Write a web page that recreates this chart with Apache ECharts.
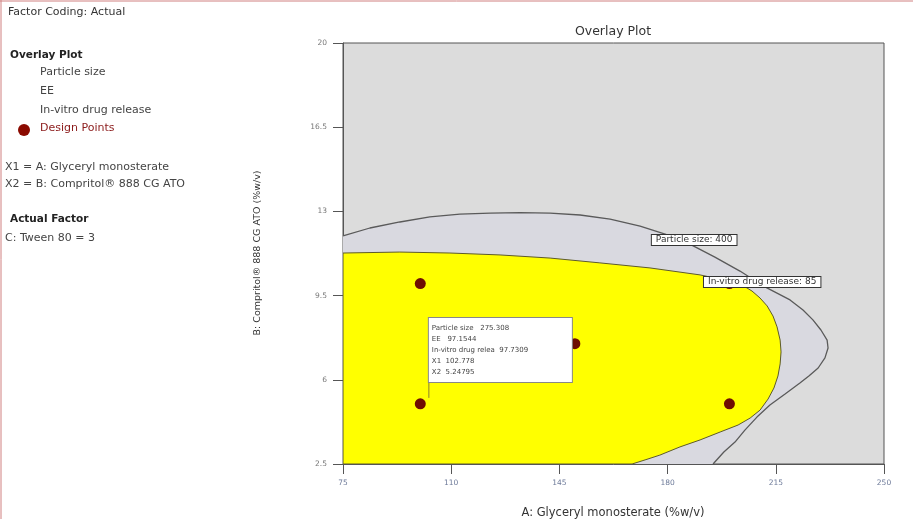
<!DOCTYPE html>
<html><head><meta charset="utf-8">
<script src="https://cdn.jsdelivr.net/npm/echarts@6/dist/echarts.min.js"></script>
<style>html,body{margin:0;padding:0;background:#fff}#c{width:913px;height:519px}</style>
</head><body><div id="c"></div>
<script>
// ---- data ----
const xTicks = [75, 110, 145, 180, 215, 250];
const yTicks = [2.5, 6, 9.5, 13, 16.5, 20];
const designX = [100, 100, 150, 200, 200];
const designY = [5, 10, 7.5, 5, 10];
// Particle size = 400 contour
const particleX = [75, 83.7, 93.4, 103.1, 112.8, 122.6, 132.3, 142.0, 151.7, 161.4, 171.1, 179.2, 187.2, 195.3, 203.4, 211.5, 219.6, 223.8, 227.0, 229.6, 231.6, 231.9, 230.9, 228.7, 225.7, 222.8, 218.0, 213.1, 208.9, 205.0, 201.8, 198.2, 194.7];
const particleY = [11.98, 12.31, 12.56, 12.77, 12.89, 12.93, 12.95, 12.93, 12.85, 12.68, 12.39, 12.06, 11.64, 11.10, 10.52, 9.86, 9.32, 8.90, 8.49, 8.07, 7.65, 7.32, 6.91, 6.49, 6.16, 5.87, 5.41, 4.95, 4.45, 3.91, 3.41, 3.00, 2.5];
// overlay (feasible) region boundary
const regionX = [75, 93.4, 109.6, 125.8, 142.0, 158.1, 174.3, 190.5, 195.3, 200.2, 204.1, 207.3, 209.9, 212.2, 214.1, 215.4, 216.4, 216.7, 216.4, 215.7, 214.4, 212.5, 209.9, 206.7, 202.8, 197.0, 190.5, 184.0, 177.5, 172.7, 168.5, 75];
const regionY = [11.27, 11.31, 11.27, 11.19, 11.06, 10.86, 10.65, 10.36, 10.23, 10.11, 9.94, 9.69, 9.40, 9.07, 8.65, 8.20, 7.65, 7.16, 6.66, 6.16, 5.66, 5.20, 4.74, 4.41, 4.12, 3.83, 3.50, 3.21, 2.87, 2.67, 2.5, 2.5];
const flagPoint = [102.778, 5.24795];
const flagTop = 8.4;
const flagLines = ['Particle size   275.308', 'EE   97.1544', 'In-vitro drug relea  97.7309', 'X1  102.778', 'X2  5.24795'];
const contourLabels = ['Particle size: 400', 'In-vitro drug release: 85'];
const contourLabelX = [188.6, 210.6];
const contourLabelY = [11.81, 10.07];

const F = '"DejaVu Sans", Verdana, sans-serif';
const chart = echarts.init(document.getElementById('c'), null, {renderer: 'canvas'});

const pairs = (xs, ys) => xs.map((x, i) => [x, ys[i]]);

const leftText = [
  {t: 'Factor Coding: Actual', x: 8, y: 14, bold: false, c: '#333'},
  {t: 'Overlay Plot', x: 10, y: 57, bold: true, c: '#222'},
  {t: 'Particle size', x: 40, y: 74, bold: false, c: '#444'},
  {t: 'EE', x: 40, y: 93, bold: false, c: '#444'},
  {t: 'In-vitro drug release', x: 40, y: 112, bold: false, c: '#444'},
  {t: 'Design Points', x: 40, y: 130, bold: false, c: '#8b1a1a'},
  {t: 'X1 = A: Glyceryl monosterate', x: 5, y: 169, bold: false, c: '#444'},
  {t: 'X2 = B: Compritol\u00ae 888 CG ATO', x: 5, y: 186, bold: false, c: '#444'},
  {t: 'Actual Factor', x: 10, y: 221, bold: true, c: '#222'},
  {t: 'C: Tween 80 = 3', x: 5, y: 240, bold: false, c: '#444'}
];

const graphics = [
  {type: 'line', shape: {x1: 0, y1: 1, x2: 913, y2: 1}, style: {stroke: '#d08080', lineWidth: 1}},
  {type: 'line', shape: {x1: 1, y1: 0, x2: 1, y2: 519}, style: {stroke: '#d08080', lineWidth: 1}},
  {type: 'circle', shape: {cx: 24, cy: 130, r: 6}, style: {fill: '#8b0a00'}}
].concat(leftText.map(o => ({
  type: 'text', left: o.x, top: o.y - 7,
  style: {text: o.t, fill: o.c, font: (o.bold ? 'bold 10.5px ' : '11px ') + F}
}))).concat([
  {type: 'text', x: 613, y: 32, style: {text: 'Overlay Plot', fill: '#333', font: '12.5px ' + F, textAlign: 'center', textVerticalAlign: 'middle'}},
  {type: 'text', x: 613, y: 513, style: {text: 'A: Glyceryl monosterate (%w/v)', fill: '#333', font: '11.5px ' + F, textAlign: 'center', textVerticalAlign: 'middle'}},
  {type: 'text', x: 258, y: 253, rotation: Math.PI / 2, style: {text: 'B: Compritol\u00ae 888 CG ATO (%w/v)', fill: '#333', font: '9.5px ' + F, textAlign: 'center', textVerticalAlign: 'middle'}}
]);

chart.setOption({
  animation: false,
  backgroundColor: '#fff',
  grid: {left: 343, right: 29, top: 43, bottom: 55, show: true, backgroundColor: '#dcdcdc', borderColor: '#555', borderWidth: 1},
  xAxis: {
    type: 'value', min: xTicks[0], max: xTicks[xTicks.length - 1], interval: xTicks[1] - xTicks[0],
    axisLine: {show: true, lineStyle: {color: '#555'}},
    axisTick: {show: true, length: 10, lineStyle: {color: '#555'}},
    axisLabel: {color: '#6d7a99', fontSize: 7.5, margin: 15, fontFamily: F},
    splitLine: {show: false}
  },
  yAxis: {
    type: 'value', min: yTicks[0], max: yTicks[yTicks.length - 1], interval: yTicks[1] - yTicks[0],
    axisLine: {show: true, lineStyle: {color: '#555'}},
    axisTick: {show: true, length: 10, lineStyle: {color: '#555'}},
    axisLabel: {color: '#777', fontSize: 7.5, margin: 16, fontFamily: F},
    splitLine: {show: false}
  },
  graphic: graphics,
  series: [
    {
      type: 'custom', z: 1, silent: true, clip: true,
      data: [0],
      renderItem: function (params, api) {
        const pts = particleX.map((x, i) => api.coord([x, particleY[i]]));
        pts.push(api.coord([xTicks[0], yTicks[0]]));
        return {type: 'polygon', shape: {points: pts}, style: {fill: '#d9d9e0', stroke: null}};
      }
    },
    {
      type: 'custom', z: 2, silent: true, clip: true,
      data: [0],
      renderItem: function (params, api) {
        const pts = regionX.map((x, i) => api.coord([x, regionY[i]]));
        return {type: 'polygon', shape: {points: pts},
          style: {fill: '#ffff00', stroke: '#5d5a2a', lineWidth: 1}};
      }
    },
    {
      type: 'line', z: 3, silent: true, showSymbol: false, smooth: false,
      data: pairs(particleX, particleY),
      lineStyle: {color: '#5a5a5a', width: 1.3}
    },
    {
      type: 'line', z: 4, silent: true, showSymbol: false,
      data: [flagPoint, [flagPoint[0], flagTop]],
      lineStyle: {color: '#8a8030', width: 1}
    },
    {
      type: 'scatter', z: 5, silent: true, symbolSize: 11,
      itemStyle: {color: '#6e0e02', opacity: 1},
      data: pairs(designX, designY)
    },
    {
      type: 'scatter', z: 6, silent: true, symbolSize: 0,
      itemStyle: {opacity: 1},
      data: [flagPoint],
      label: {
        show: true, position: 'inside', align: 'left', verticalAlign: 'bottom', offset: [0, -16],
        formatter: flagLines.join('\n'),
        fontFamily: F, fontSize: 7, lineHeight: 11, color: '#444',
        backgroundColor: '#fff', borderColor: '#888', borderWidth: 1,
        padding: [5, 8, 4, 3], width: 132
      }
    },
    {
      type: 'scatter', z: 6, silent: true, symbolSize: 0,
      itemStyle: {opacity: 1},
      data: contourLabels.map((t, i) => ({value: [contourLabelX[i], contourLabelY[i]], name: t})),
      label: {
        show: true, position: 'inside', formatter: '{b}',
        fontFamily: F, fontSize: 9, color: '#333',
        backgroundColor: '#fff', borderColor: '#333', borderWidth: 1, padding: [1, 4, 0, 4]
      }
    }
  ]
});
</script></body></html>
